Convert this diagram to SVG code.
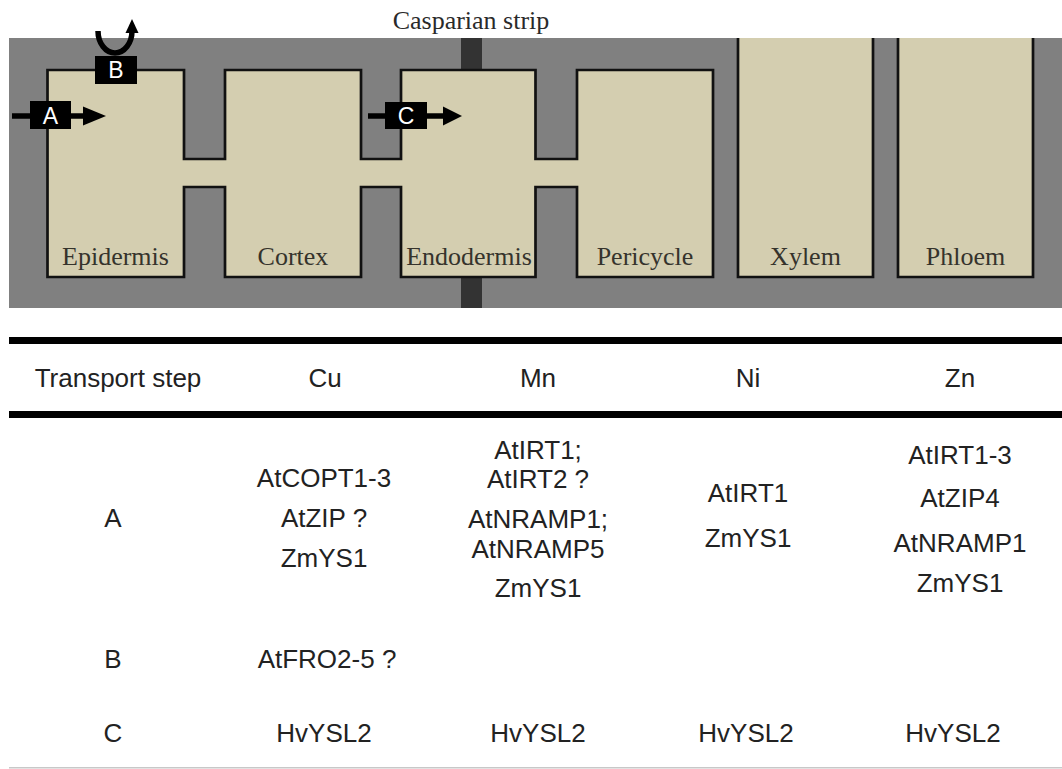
<svg xmlns="http://www.w3.org/2000/svg" width="1062" height="769" viewBox="0 0 1062 769">
<style>
.tan{fill:#d4ceb0}
.edge{fill:none;stroke:#111;stroke-width:2.7}
.lbl{font-family:"Liberation Serif","Times New Roman",serif;font-size:26px;fill:#35332c;text-anchor:middle}
.tt{font-family:"Liberation Sans",Arial,sans-serif;font-size:26px;fill:#222;text-anchor:middle}
.box{fill:#000}
.bl{font-family:"Liberation Sans",Arial,sans-serif;font-size:23px;fill:#fff;text-anchor:middle}
.arw{stroke:#000;stroke-width:5.5;fill:none}
.strip{fill:#333}
</style>
<rect x="0" y="0" width="1062" height="769" fill="#fff"/>
<rect id="tissue" x="9" y="38" width="1053" height="270" fill="#808080"/>
<text x="471" y="29" class="lbl" style="fill:#2a2a2a">Casparian strip</text>
<rect class="strip" x="461" y="38" width="21" height="32"/>
<rect class="strip" x="461" y="277" width="21" height="31"/>
<g id="connectors">
<rect class="tan" x="183" y="159" width="43" height="28"/>
<rect class="tan" x="360" y="159" width="42" height="28"/>
<rect class="tan" x="534.5" y="159" width="43.5" height="28"/>
</g>
<g id="epidermis"><rect class="tan" x="47.5" y="70" width="136.5" height="207"/><text class="lbl" x="115.5" y="265">Epidermis</text></g>
<g id="cortex"><rect class="tan" x="225" y="70" width="136" height="207"/><text class="lbl" x="293" y="265">Cortex</text></g>
<g id="endodermis"><rect class="tan" x="401" y="70" width="134.5" height="207"/><text class="lbl" x="469" y="265">Endodermis</text></g>
<g id="pericycle"><rect class="tan" x="577" y="70" width="136" height="207"/><text class="lbl" x="645" y="265">Pericycle</text></g>
<g id="xylem"><rect class="tan" x="738" y="38" width="135" height="239"/><path class="edge" d="M738 38V277H873V38"/><text class="lbl" x="805.5" y="265">Xylem</text></g>
<g id="phloem"><rect class="tan" x="898" y="38" width="135" height="239"/><path class="edge" d="M898 38V277H1033V38"/><text class="lbl" x="965.5" y="265">Phloem</text></g>
<path id="membrane" class="edge" d="M47.5 70H184V159H225V70H361V159H401V70H535.5V159H577V70H713V277H577V187H535.5V277H401V187H361V277H225V187H184V277H47.5Z"/>
<g id="arrowA">
<line class="arw" x1="12" y1="116" x2="86" y2="116"/>
<polygon points="83,106.5 106,116 83,125.5" fill="#000"/>
<rect class="box" x="30" y="101" width="41" height="28"/>
<text class="bl" x="50.5" y="124">A</text>
</g>
<g id="arrowB">
<path class="arw" d="M98 31A17 22 0 0 0 132 31"/>
<polygon points="125.5,33 132,19 138.5,33" fill="#000"/>
<rect class="box" x="95" y="56" width="42" height="28"/>
<text class="bl" x="116" y="78">B</text>
</g>
<g id="arrowC">
<line class="arw" x1="368" y1="116" x2="446" y2="116"/>
<polygon points="443,106.5 462,116 443,125.5" fill="#000"/>
<rect class="box" x="385" y="102" width="42" height="27"/>
<text class="bl" x="406" y="124">C</text>
</g>
<g id="table">
<rect x="9" y="337" width="1053" height="7" fill="#000"/>
<rect x="9" y="411" width="1053" height="7" fill="#000"/>
<rect x="9" y="767" width="1053" height="1.5" fill="#c8c8c8"/>
<text class="tt" x="118" y="387">Transport step</text>
<text class="tt" x="325" y="387">Cu</text>
<text class="tt" x="538" y="387">Mn</text>
<text class="tt" x="748" y="387">Ni</text>
<text class="tt" x="960" y="387">Zn</text>
<text class="tt" x="113" y="527">A</text>
<text class="tt" x="324" y="487">AtCOPT1-3</text>
<text class="tt" x="324" y="527">AtZIP ?</text>
<text class="tt" x="324" y="567">ZmYS1</text>
<text class="tt" x="538" y="459">AtIRT1;</text>
<text class="tt" x="538" y="488">AtIRT2 ?</text>
<text class="tt" x="538" y="528">AtNRAMP1;</text>
<text class="tt" x="538" y="558">AtNRAMP5</text>
<text class="tt" x="538" y="597">ZmYS1</text>
<text class="tt" x="748" y="502">AtIRT1</text>
<text class="tt" x="748" y="547">ZmYS1</text>
<text class="tt" x="960" y="464">AtIRT1-3</text>
<text class="tt" x="960" y="507">AtZIP4</text>
<text class="tt" x="960" y="552">AtNRAMP1</text>
<text class="tt" x="960" y="592">ZmYS1</text>
<text class="tt" x="113" y="668">B</text>
<text class="tt" x="327" y="668">AtFRO2-5 ?</text>
<text class="tt" x="113" y="742">C</text>
<text class="tt" x="324" y="742">HvYSL2</text>
<text class="tt" x="538" y="742">HvYSL2</text>
<text class="tt" x="746" y="742">HvYSL2</text>
<text class="tt" x="953" y="742">HvYSL2</text>
</g>
</svg>
